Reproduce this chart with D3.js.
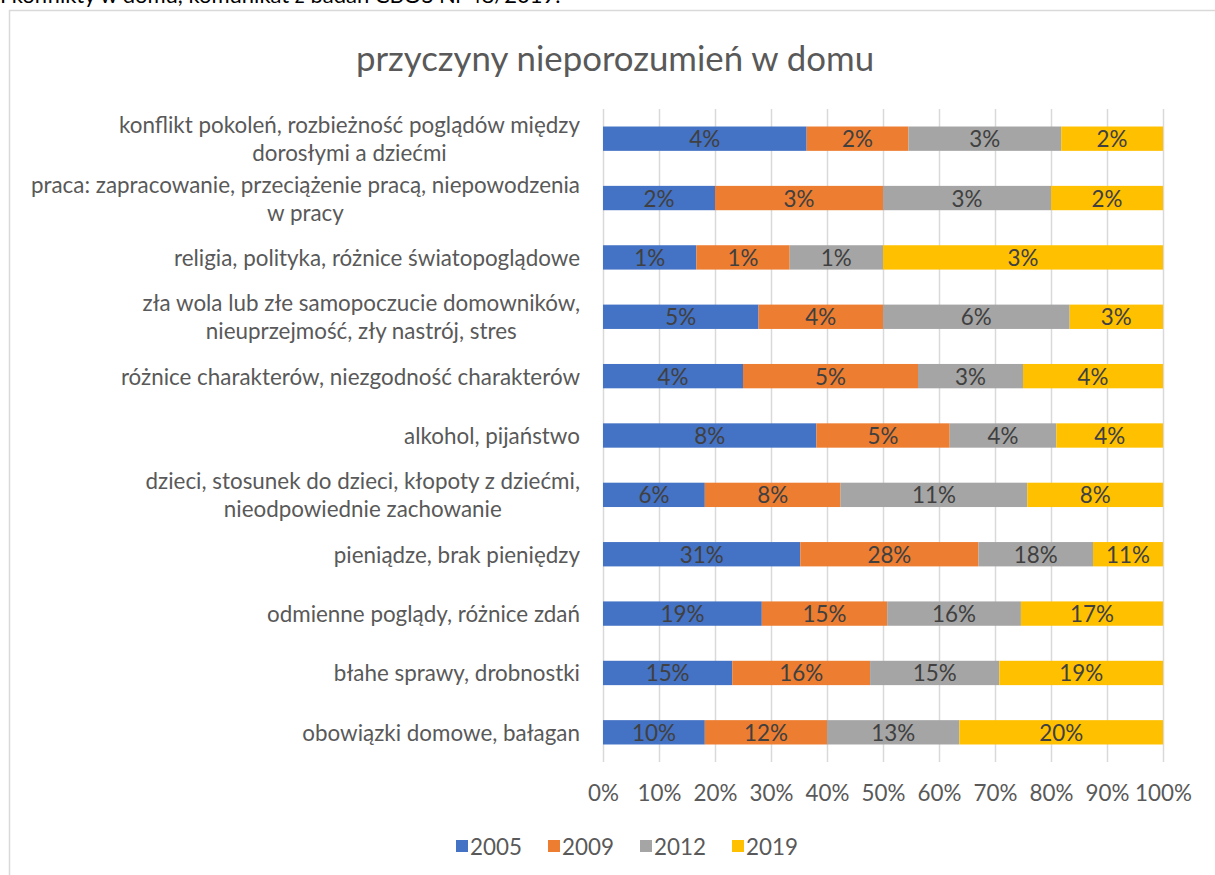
<!DOCTYPE html>
<html>
<head>
<meta charset="utf-8">
<script src="https://cdn.jsdelivr.net/npm/d3@7"></script>
<style>
  body { margin: 0; background: #fff; }
  svg { display: block; font-family: Lato, "Open Sans", sans-serif; }
</style>
</head>
<body>
<svg width="1215" height="875"></svg>
<script>
// categories, top to bottom (line breaks as in the original)
var categories = [
  ["konflikt pokoleń, rozbieżność poglądów między", "dorosłymi a dziećmi"],
  ["praca: zapracowanie, przeciążenie pracą, niepowodzenia", "w pracy"],
  ["religia, polityka, różnice światopoglądowe"],
  ["zła wola lub złe samopoczucie domowników,", "nieuprzejmość, zły nastrój, stres"],
  ["różnice charakterów, niezgodność charakterów"],
  ["alkohol, pijaństwo"],
  ["dzieci, stosunek do dzieci, kłopoty z dziećmi,", "nieodpowiednie zachowanie"],
  ["pieniądze, brak pieniędzy"],
  ["odmienne poglądy, różnice zdań"],
  ["błahe sprawy, drobnostki"],
  ["obowiązki domowe, bałagan"]
];

var years = ["2005", "2009", "2012", "2019"];

var v2005 = [4, 2, 1, 5, 4, 8, 6, 31, 19, 15, 10];
var v2009 = [2, 3, 1, 4, 5, 5, 8, 28, 15, 16, 12];
var v2012 = [3, 3, 1, 6, 3, 4, 11, 18, 16, 15, 13];
var v2019 = [2, 2, 3, 3, 4, 4, 8, 11, 17, 19, 20];

var xTicks = [0, 0.1, 0.2, 0.3, 0.4, 0.5, 0.6, 0.7, 0.8, 0.9, 1];

var colors = ["#4472C4", "#ED7D31", "#A5A5A5", "#FFC000"];

var rows = categories.map(function(c, i) {
  return { idx: i, label: c, "2005": v2005[i], "2009": v2009[i], "2012": v2012[i], "2019": v2019[i] };
});

var fs = 22.4;
var svg = d3.select("svg");

// source line cut off at the top of the picture
svg.append("text")
  .attr("x", 0)
  .attr("y", 3)
  .attr("font-size", 22)
  .attr("fill", "#000")
  .text("I konflikty w domu, komunikat z badań CBOS Nr 48/2019.");

// chart frame (runs off the right and bottom edges)
svg.append("rect")
  .attr("x", 9.5).attr("y", 10.5)
  .attr("width", 1400).attr("height", 1000)
  .attr("fill", "#fff")
  .attr("stroke", "#d9d9d9")
  .attr("stroke-width", 1.5);

svg.append("text")
  .attr("x", 615)
  .attr("y", 57)
  .attr("text-anchor", "middle")
  .attr("dominant-baseline", "central")
  .attr("font-size", 34.8)
  .attr("fill", "#595959")
  .text("przyczyny nieporozumień w domu");

var x = d3.scaleLinear().domain([0, 1]).range([603, 1163]);
var y = d3.scaleBand()
  .domain(d3.range(categories.length))
  .range([109, 762])
  .paddingInner(0.59)
  .paddingOuter(0.295);

// gridlines
svg.append("g")
  .attr("transform", "translate(0,762)")
  .call(d3.axisBottom(x).tickValues(xTicks).tickSize(-653).tickFormat(""))
  .call(function(g) {
    g.select(".domain").remove();
    g.selectAll(".tick line").attr("stroke", "#d9d9d9").attr("stroke-width", 1.5);
  });

// x tick labels
svg.append("g")
  .attr("transform", "translate(0,762)")
  .call(d3.axisBottom(x).tickValues(xTicks).tickSize(0).tickPadding(23).tickFormat(d3.format(".0%")))
  .call(function(g) {
    g.select(".domain").remove();
    g.selectAll("text")
      .attr("font-family", "Lato, sans-serif")
      .attr("font-size", fs)
      .attr("fill", "#595959");
  });

var stack = d3.stack().keys(years).offset(d3.stackOffsetExpand);
var series = stack(rows);

var layer = svg.append("g").selectAll("g")
  .data(series)
  .enter().append("g")
  .attr("fill", function(d, i) { return colors[i]; });

layer.selectAll("rect")
  .data(function(d) { return d; })
  .enter().append("rect")
  .attr("x", function(d) { return x(d[0]); })
  .attr("width", function(d) { return x(d[1]) - x(d[0]); })
  .attr("y", function(d) { return y(d.data.idx); })
  .attr("height", y.bandwidth());

// data labels
series.forEach(function(s) {
  svg.append("g").selectAll("text")
    .data(s)
    .enter().append("text")
    .attr("x", function(d) { return (x(d[0]) + x(d[1])) / 2; })
    .attr("y", function(d) { return y(d.data.idx) + y.bandwidth() / 2; })
    .attr("text-anchor", "middle")
    .attr("dominant-baseline", "central")
    .attr("font-size", fs)
    .attr("fill", "#404040")
    .text(function(d) { return d.data[s.key] + "%"; });
});

// category labels: block right-aligned at 580, lines centred inside it
var labelRight = 580, lineH = 28;
rows.forEach(function(r) {
  var g = svg.append("g");
  var cy = y(r.idx) + y.bandwidth() / 2;
  var n = r.label.length;
  var texts = g.selectAll("text")
    .data(r.label)
    .enter().append("text")
    .attr("y", function(d, i) { return cy + (i - (n - 1) / 2) * lineH; })
    .attr("dominant-baseline", "central")
    .attr("text-anchor", "middle")
    .attr("font-size", fs)
    .attr("fill", "#595959")
    .text(function(d) { return d; });
  var maxW = 0;
  texts.each(function() { maxW = Math.max(maxW, this.getComputedTextLength()); });
  texts.attr("x", labelRight - maxW / 2);
});

// legend
var legend = svg.append("g").selectAll("g")
  .data(years)
  .enter().append("g")
  .attr("transform", function(d, i) { return "translate(" + (456 + i * 92) + ",846)"; });

legend.append("rect")
  .attr("x", 0).attr("y", -6)
  .attr("width", 12).attr("height", 12)
  .attr("fill", function(d, i) { return colors[i]; });

legend.append("text")
  .attr("x", 14)
  .attr("y", 0)
  .attr("dominant-baseline", "central")
  .attr("font-size", fs)
  .attr("fill", "#595959")
  .text(function(d) { return d; });
</script>
</body>
</html>
